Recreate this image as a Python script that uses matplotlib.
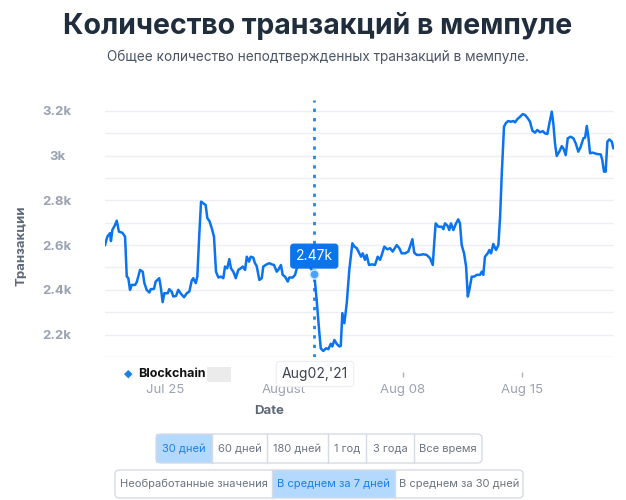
import pandas as pd
import matplotlib
matplotlib.use("Agg")
import matplotlib.pyplot as plt
from matplotlib.patches import FancyBboxPatch, Rectangle
from matplotlib.lines import Line2D

plt.rcParams['font.family'] = ['Inter', 'DejaVu Sans']

# days after 2021-07-25 and mempool transaction counts (7-day average)
days = [-3.53, -3.39, -3.24, -3.18, -3.10, -2.94, -2.84, -2.71, -2.51, -2.35,
        -2.25, -2.16, -2.06, -1.96, -1.76, -1.66, -1.47, -1.31, -1.22, -1.08,
        -0.92, -0.84, -0.65, -0.55, -0.34, -0.24, -0.14, -0.04, 0.16, 0.25,
        0.39, 0.49, 0.65, 0.78, 0.94, 1.12, 1.28, 1.43, 1.57, 1.66,
        1.81, 1.90, 2.02, 2.12, 2.25, 2.39, 2.49, 2.61, 2.75, 2.88,
        3.00, 3.14, 3.29, 3.43, 3.53, 3.66, 3.78, 3.88, 4.02, 4.16,
        4.31, 4.45, 4.57, 4.71, 4.81, 4.94, 5.04, 5.19, 5.29, 5.39,
        5.55, 5.69, 5.78, 5.98, 6.14, 6.28, 6.41, 6.57, 6.66, 6.82,
        6.92, 7.06, 7.22, 7.31, 7.51, 7.65, 7.75, 7.94, 8.14, 8.34,
        8.49, 8.63, 8.78, 8.92, 9.08, 9.16, 9.31, 9.47, 9.61, 9.75,
        9.84, 9.96, 10.10, 10.25, 10.34, 10.43, 10.55, 10.69, 10.84, 11.02,
        11.14, 11.28, 11.43, 11.53, 11.63, 11.76, 11.86, 12.00, 12.16, 12.35,
        12.51, 12.65, 12.75, 12.90, 13.08, 13.24, 13.39, 13.63, 13.78, 13.92,
        14.12, 14.31, 14.41, 14.55, 14.66, 14.81, 15.00, 15.19, 15.39, 15.59,
        15.75, 15.84, 15.92, 16.08, 16.28, 16.37, 16.47, 16.63, 16.72, 16.82,
        16.96, 17.12, 17.25, 17.35, 17.45, 17.59, 17.71, 17.81, 17.90, 18.04,
        18.18, 18.34, 18.53, 18.63, 18.72, 18.82, 18.98, 19.08, 19.18, 19.31,
        19.47, 19.61, 19.71, 19.81, 19.94, 20.06, 20.19, 20.34, 20.49, 20.59,
        20.72, 20.88, 21.04, 21.18, 21.34, 21.47, 21.61, 21.76, 21.90, 22.06,
        22.22, 22.35, 22.49, 22.61, 22.75, 22.84, 22.94, 23.04, 23.19, 23.34,
        23.43, 23.57, 23.69, 23.86, 24.02, 24.16, 24.31, 24.45, 24.61, 24.71,
        24.81, 24.90, 25.00, 25.16, 25.39, 25.63, 25.72, 25.82, 25.92, 26.02,
        26.14, 26.28, 26.37, 26.47]
values = [2600, 2638, 2653, 2618, 2667, 2690, 2709, 2660, 2655, 2638,
          2459, 2453, 2400, 2422, 2422, 2435, 2489, 2481, 2432, 2400,
          2388, 2403, 2404, 2437, 2452, 2407, 2345, 2385, 2385, 2403,
          2392, 2370, 2373, 2400, 2382, 2367, 2385, 2392, 2441, 2452,
          2430, 2459, 2653, 2794, 2787, 2779, 2720, 2708, 2675, 2638,
          2481, 2455, 2459, 2452, 2504, 2496, 2537, 2496, 2481, 2452,
          2489, 2496, 2504, 2489, 2548, 2526, 2548, 2544, 2519, 2507,
          2444, 2452, 2504, 2514, 2519, 2514, 2511, 2481, 2489, 2511,
          2467, 2459, 2437, 2455, 2455, 2467, 2496, 2511, 2519, 2511,
          2504, 2489, 2470, 2355, 2206, 2139, 2127, 2139, 2135, 2159,
          2147, 2176, 2159, 2147, 2150, 2296, 2251, 2340, 2489, 2608,
          2593, 2586, 2563, 2548, 2563, 2534, 2556, 2511, 2514, 2511,
          2548, 2534, 2556, 2593, 2581, 2586, 2571, 2600, 2586, 2563,
          2563, 2571, 2593, 2626, 2566, 2556, 2556, 2559, 2556, 2541,
          2511, 2615, 2697, 2682, 2682, 2671, 2697, 2685, 2667, 2697,
          2667, 2697, 2715, 2697, 2600, 2563, 2504, 2370, 2400, 2459,
          2459, 2467, 2467, 2481, 2467, 2548, 2563, 2578, 2563, 2605,
          2578, 2600, 2727, 2921, 3129, 3146, 3154, 3151, 3154, 3148,
          3162, 3173, 3185, 3181, 3166, 3151, 3111, 3102, 3114, 3104,
          3109, 3099, 3096, 3144, 3196, 3144, 3054, 2998, 3017, 3042,
          3032, 3002, 3077, 3084, 3077, 3054, 3017, 3039, 3077, 3080,
          3132, 3084, 3010, 3013, 3007, 3005, 2980, 2928, 2928, 3062,
          3072, 3062, 3032, 3039]

ytick_vals = [2200, 2400, 2600, 2800, 3000, 3200]
ytick_labels = ['2.2k', '2.4k', '2.6k', '2.8k', '3k', '3.2k']
xtick_dates = ['2021-07-25', '2021-08-01', '2021-08-08', '2021-08-15']
xtick_labels = ['Jul 25', 'August', 'Aug 08', 'Aug 15']
hover_index = 92
hover_label = '2.47k'
hover_date_label = "Aug02,'21"

range_buttons = ['30 дней', '60 дней', '180 дней', '1 год', '3 года', 'Все время']
avg_buttons = ['Необработанные значения', 'В среднем за 7 дней', 'В среднем за 30 дней']

W, H = 626, 500
base = pd.Timestamp('2021-07-25')
dates = base + pd.to_timedelta(days, unit='D')

fig = plt.figure(figsize=(W / 100, H / 100), dpi=100)
ax = fig.add_axes([105 / W, 1 - 357 / H, 509 / W, 257 / H])

line_color = '#0a74ee'
ax.plot(dates, values, color=line_color, lw=1.8, solid_joinstyle='round', zorder=3)

ax.set_xlim(base + pd.Timedelta(days=-3.53), base + pd.Timedelta(days=26.41))
ax.set_ylim(2100, 3248)

# grid every 100, labels every 200
ax.set_yticks(ytick_vals)
ax.set_yticklabels(ytick_labels)
ax.set_yticks(range(2100, 3201, 100), minor=True)
ax.grid(True, axis='y', which='both', color='#eceff4', lw=1)
ax.tick_params(axis='y', which='both', length=0)
ax.tick_params(axis='y', which='major', pad=34.5, labelsize=9.5, labelcolor='#9aa3b2')
for lab in ax.get_yticklabels():
    lab.set_horizontalalignment('center')
    lab.set_fontweight('bold')

ax.set_xticks(pd.to_datetime(xtick_dates))
ax.set_xticklabels(xtick_labels)
ax.tick_params(axis='x', length=3.6, width=1, color='#aab2bf', pad=5,
               labelsize=9.5, labelcolor='#9aa3b2')
for lab in ax.get_xticklabels():
    lab.set_fontweight('bold')

for s in ['top', 'right', 'left']:
    ax.spines[s].set_visible(False)
ax.spines['bottom'].set_position(('outward', 10.8))
ax.spines['bottom'].set_visible(False)
ax.axhline(2100, color='#eceff4', lw=1, zorder=1)

# crosshair + hover tooltip
hx = dates[hover_index]
hy = values[hover_index]
ax.axvline(hx, color='#1e88f0', lw=2, linestyle=(0, (1.2, 2.2)), zorder=2)
ax.plot([hx], [hy], 'o', ms=6.5, mfc='#4aa3f8', mec='#d5e9ff', mew=1, zorder=5)
ax.annotate(hover_label, (hx, hy), xytext=(0, 13), textcoords='offset points',
            ha='center', va='center', color='white', fontsize=10,
            bbox=dict(boxstyle='round,pad=0.35,rounding_size=0.2', fc=line_color, ec=line_color),
            zorder=6)

def fx(x):
    return x / W

def fy(y):
    return 1 - y / H

# titles
fig.text(fx(318), fy(26), 'Количество транзакций в мемпуле', ha='center', va='center',
         fontsize=20.5, fontweight='bold', color='#1f2d3d')
fig.text(fx(318), fy(57), 'Общее количество неподтвержденных транзакций в мемпуле.',
         ha='center', va='center', fontsize=9.8, color='#4a5566')

fig.text(fx(22), fy(246), 'Транзакции', rotation=90, ha='center', va='center',
         fontsize=9.5, fontweight='bold', color='#5d6878')
fig.text(fx(269), fy(411), 'Date', ha='center', va='center',
         fontsize=9.5, fontweight='bold', color='#5d6878')

# watermark
fig.text(fx(128), fy(374), '◆', ha='center', va='center', fontsize=8,
         color='#1a7fe8', family='DejaVu Sans')
fig.text(fx(138), fy(374), 'Blockchain', ha='left', va='center', fontsize=9,
         fontweight='bold', color='#111111',
         bbox=dict(boxstyle='square,pad=0.15', fc='white', ec='none'))
fig.add_artist(Rectangle((fx(203), fy(382)), 28 / W, 15 / H,
                         transform=fig.transFigure, fc='#ebebeb', ec='none'))

# x hover label
fig.text(fx(315), fy(374), hover_date_label, ha='center', va='center', fontsize=10,
         color='#3c4450',
         bbox=dict(boxstyle='round,pad=0.4,rounding_size=0.25', fc='white', ec='#eef0f3'))

# button groups
def button_row(edges, labels, selected, y0, y1):
    h = (y1 - y0) / H
    for i, lab in enumerate(labels):
        if i == selected:
            fig.add_artist(Rectangle((fx(edges[i]), fy(y1)), (edges[i + 1] - edges[i]) / W, h,
                                     transform=fig.transFigure, fc='#b3dafe', ec='none'))
        cx = (edges[i] + edges[i + 1]) / 2
        fig.text(fx(cx), fy((y0 + y1) / 2), lab, ha='center', va='center', fontsize=8,
                 color='#1a7fe8' if i == selected else '#6b7482')
        if 0 < i:
            fig.add_artist(Line2D([fx(edges[i])] * 2, [fy(y0), fy(y1)],
                                  transform=fig.transFigure, color='#d5dbe5', lw=1))
    fig.add_artist(FancyBboxPatch((fx(edges[0]), fy(y1)), (edges[-1] - edges[0]) / W, h,
                                  boxstyle='round,pad=0,rounding_size=0.008',
                                  transform=fig.transFigure, fc='none', ec='#d5dbe5', lw=1))

button_row([156, 212, 267, 328, 366, 414, 482], range_buttons, 0, 434, 463)
button_row([115, 272, 395, 523], avg_buttons, 1, 470, 498)

fig.savefig('out.png', dpi=100, facecolor='white')
